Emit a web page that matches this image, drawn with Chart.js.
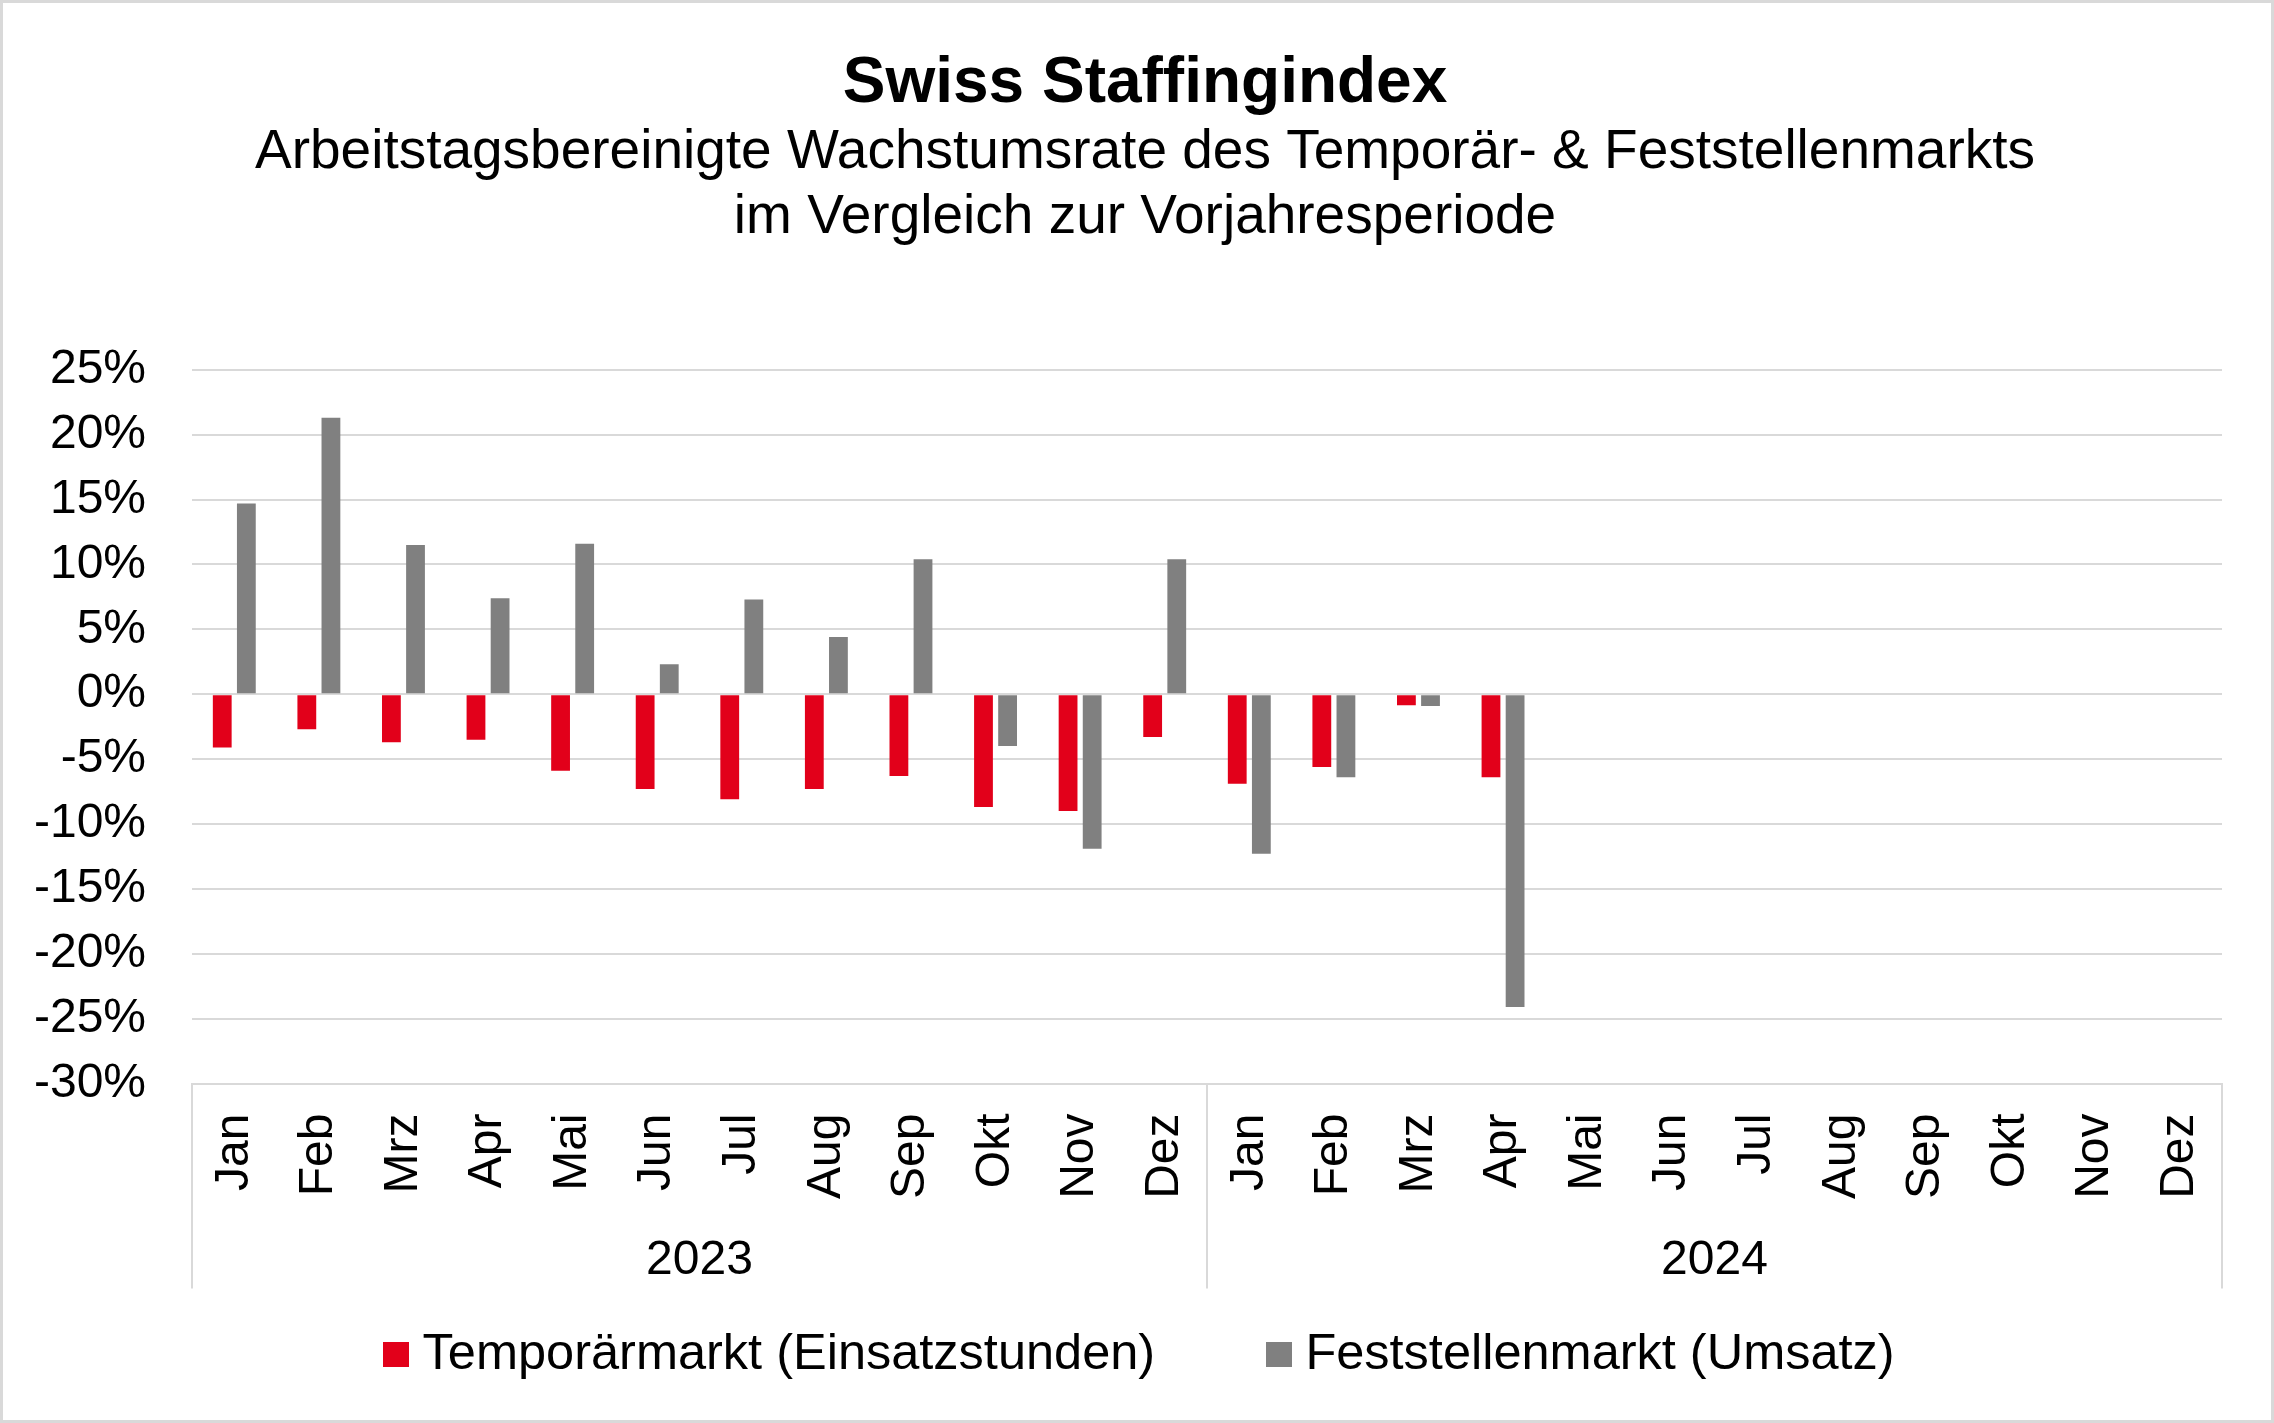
<!DOCTYPE html>
<html>
<head>
<meta charset="utf-8">
<script src="https://cdn.jsdelivr.net/npm/chart.js@4.4.1/dist/chart.umd.min.js"></script>
<style>
  html, body { margin: 0; padding: 0; background: #ffffff; }
  #c { display: block; }
</style>
</head>
<body>
<canvas id="c" width="2274" height="1423"></canvas>
<script>
// ---- Data ----
const months = ['Jan','Feb','Mrz','Apr','Mai','Jun','Jul','Aug','Sep','Okt','Nov','Dez'];
const years = ['2023','2024'];
const seriesNames = ['Temporärmarkt (Einsatzstunden)', 'Feststellenmarkt (Umsatz)'];
const temporaer = [-4.1, -2.7, -3.7, -3.5, -5.9, -7.3, -8.1, -7.3, -6.3, -8.7, -9.0, -3.3,
                   -6.9, -5.6, -0.85, -6.4, null, null, null, null, null, null, null, null];
const feststellen = [14.7, 21.3, 11.5, 7.4, 11.6, 2.3, 7.3, 4.4, 10.4, -4.0, -11.9, 10.4,
                     -12.3, -6.4, -0.9, -24.1, null, null, null, null, null, null, null, null];
const yTicks = [-30, -25, -20, -15, -10, -5, 0, 5, 10, 15, 20, 25];
const titleText = 'Swiss Staffingindex';
const subtitleLines = ['Arbeitstagsbereinigte Wachstumsrate des Temporär- & Feststellenmarkts',
                       'im Vergleich zur Vorjahresperiode'];
const seriesColors = ['#E2001A', '#808080'];

// ---- Build ----
const labels = [];
years.forEach(() => months.forEach(m => labels.push(m)));

Chart.defaults.font.family = "'Liberation Sans', Arial, sans-serif";
Chart.defaults.color = '#000000';

const GRID = '#d9d9d9';

// legend swatches (small squares)
const swatches = seriesColors.map(c => {
  const cv = document.createElement('canvas');
  cv.width = 26; cv.height = 25;
  const g = cv.getContext('2d');
  g.fillStyle = c;
  g.fillRect(0, 0, 26, 25);
  return cv;
});

const groupPlugin = {
  id: 'groupPlugin',
  beforeDraw(chart) {
    const ctx = chart.ctx;
    ctx.save();
    ctx.fillStyle = '#ffffff';
    ctx.fillRect(0, 0, chart.width, chart.height);
    ctx.restore();
  },
  afterDraw(chart) {
    const ctx = chart.ctx;
    const xs = chart.scales.x;
    const yb = chart.chartArea.bottom;
    const per = months.length;
    const bounds = [xs.left];
    for (let g = 1; g < years.length; g++) {
      bounds.push((xs.getPixelForValue(g * per - 1) + xs.getPixelForValue(g * per)) / 2);
    }
    bounds.push(xs.right);
    ctx.save();
    ctx.strokeStyle = GRID;
    ctx.lineWidth = 2;
    bounds.forEach(b => {
      ctx.beginPath();
      ctx.moveTo(b, yb);
      ctx.lineTo(b, yb + 205);
      ctx.stroke();
    });
    ctx.fillStyle = '#000000';
    ctx.font = "48px 'Liberation Sans', Arial, sans-serif";
    ctx.textAlign = 'center';
    ctx.textBaseline = 'middle';
    years.forEach((y, i) => {
      ctx.fillText(y, (bounds[i] + bounds[i + 1]) / 2, yb + 177);
    });
    // outer frame
    ctx.strokeStyle = GRID;
    ctx.lineWidth = 3;
    ctx.strokeRect(1.5, 1.5, chart.width - 3, chart.height - 3);
    ctx.restore();
  }
};

new Chart(document.getElementById('c'), {
  type: 'bar',
  data: {
    labels: labels,
    datasets: [
      { label: seriesNames[0], data: temporaer, backgroundColor: seriesColors[0],
        categoryPercentage: 0.57, barPercentage: 0.78 },
      { label: seriesNames[1], data: feststellen, backgroundColor: seriesColors[1],
        categoryPercentage: 0.57, barPercentage: 0.78 }
    ]
  },
  options: {
    responsive: false,
    devicePixelRatio: 1,
    animation: false,
    layout: { padding: { left: 16, right: 0, top: 0, bottom: 33 } },
    plugins: {
      title: {
        display: true, text: titleText, color: '#000',
        font: { size: 64, weight: 'bold', lineHeight: 1.0 },
        padding: { top: 52, bottom: 2 }
      },
      subtitle: {
        display: true, text: subtitleLines, color: '#000',
        font: { size: 55, weight: 'normal', lineHeight: 1.18 },
        padding: { top: 2, bottom: 120 }
      },
      legend: {
        display: true, position: 'bottom',
        labels: {
          usePointStyle: true, pointStyleWidth: 2, boxHeight: 26,
          padding: 123, color: '#000', font: { size: 50.5 },
          generateLabels(chart) {
            const items = Chart.defaults.plugins.legend.labels.generateLabels(chart);
            items.forEach((it, i) => { it.pointStyle = swatches[i]; });
            return items;
          }
        }
      },
      tooltip: { enabled: false }
    },
    scales: {
      x: {
        grid: { display: false, drawTicks: false },
        border: { display: true, color: GRID, width: 2 },
        ticks: { minRotation: 90, maxRotation: 90, autoSkip: false, padding: 30,
                 font: { size: 48 }, color: '#000' },
        afterFit(scale) { scale.height = 123; }
      },
      y: {
        min: -30, max: 25,
        afterBuildTicks(scale) { scale.ticks = yTicks.map(v => ({ value: v })); },
        grid: { color: GRID, lineWidth: 2, drawTicks: false },
        border: { display: false },
        ticks: { padding: 46, font: { size: 48 }, color: '#000',
                 callback: v => v + '%' },
        afterFit(scale) { scale.width = 176; }
      },
      y2: {
        type: 'linear', position: 'right', display: true,
        grid: { display: false, drawTicks: false },
        border: { display: false },
        ticks: { display: false },
        afterFit(scale) { scale.width = 52; }
      }
    }
  },
  plugins: [groupPlugin]
});
</script>
</body>
</html>
